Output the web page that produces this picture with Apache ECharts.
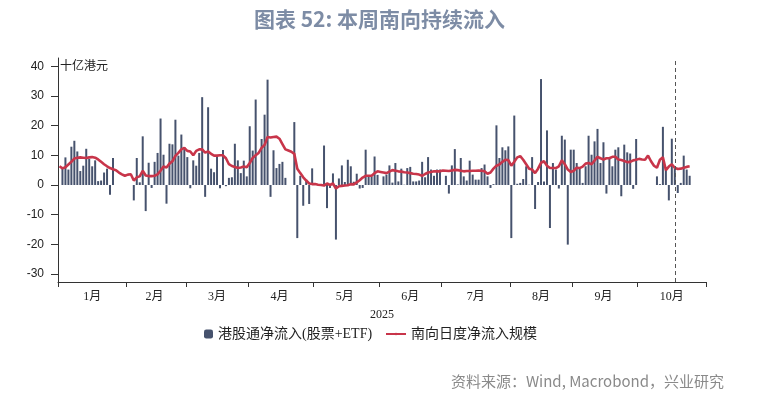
<!DOCTYPE html>
<html>
<head>
<meta charset="utf-8">
<title>图表 52: 本周南向持续流入</title>
<script src="https://cdn.jsdelivr.net/npm/echarts@6/dist/echarts.min.js"></script>
<style>
  html, body { margin: 0; padding: 0; background: #fff; }
  #chart { width: 759px; height: 399px; }
</style>
</head>
<body>
<div id="chart"></div>
<script>
// === DONNEES (十亿港元) ===
// 港股通净流入(股票+ETF) : un point par jour de bourse, dans l'ordre
const netFlow = [
  5.7, 9.3, 5.2, 12.9, 14.9, 11.3, 4.7, 6.5, 12.2, 8.8, 6.3, 8.3, 1.3, 1.5, 4.2, 5.5, -3.3, 9.1,            // janv
  -5.2, 9.1, 0.9, 16.4, -8.8, 7.5, -1.0, 7.8, 10.8, 22.4, 10.2, -6.3, 13.9, 13.7, 22.0, 9.9, 17.0, 12.7,    // fev
  9.4, -1.1, 8.3, 6.5, 10.8, 29.6, -4.0, 26.2, 5.5, 4.3, 9.9, -1.1, 11.8, -0.4, 2.4, 2.6, 13.9, 8.3, 4.0, 8.2, 2.9, // mars
  19.8, 11.6, 28.8, 15.5, 23.7, 35.5, -4.0, 11.7, 5.7, 7.1, 7.8, 2.4, 21.2, -17.9, 3.1, -7.0, 1.8, -6.4, 5.6, // avr
  13.3, -7.8, -1.0, 3.9, -18.4, 2.2, 6.6, 1.0, 8.5, 6.3, 1.1, 3.8, -1.2, -1.0, 11.9, 2.9, 2.9, 9.6, 3.4,     // mai
  2.9, 3.5, 6.6, 0.8, 7.4, 1.2, 5.5, 0.1, 5.7, 6.1, 1.2, 1.2, 1.5, 7.8, 2.6, 9.4, 5.2, 3.1, 5.2, 5.2,        // juin
  3.1, -2.9, 6.6, 12.1, 0.2, 9.1, 2.9, 1.5, 8.2, 3.5, 1.8, 1.8, 5.7, 6.9, 2.9, -1.0, 0.3, 20.1, 9.1, 12.7, 11.7, 13.0, // juil
  -17.9, 23.4, 0.4, 0.7, 2.0, 6.3, 0.1, 9.4, -8.1, 1.0, 35.7, 1.2, 18.4, -14.5, 7.4, 5.2, -1.2, 16.6, 15.3, -20.1, 11.9, // aout
  11.9, 7.4, 5.7, 0.7, 6.3, 16.6, 10.2, 14.7, 18.9, 7.4, 14.4, -2.9, 8.8, 6.3, 11.9, 12.7, -3.8, 13.6, 11.0, 10.6, -1.3, 15.5, // sept
  2.9, 0.3, 19.6, 5.2, -5.2, 15.6, 6.3, -2.7, 0.7, 9.9, 5.2, 3.1                                           // oct
];

// 南向日度净流入规模 : un point par jour ouvre (lun-ven), du 1er janv au 24 oct
const dailyScale = [
  6.3, 5.6, 6.0, 6.9, 7.8, 8.9, 9.2, 9.3, 9.2, 9.1, 9.3, 9.4, 9.2, 8.6, 7.8, 7.0, 6.3, 5.7, 5.3, 5.0, 4.2, 3.6, 3.1,
  3.5, 3.6, 1.5, 2.6, 2.9, 4.8, 3.2, 3.0, 3.0, 3.1, 3.6, 4.8, 6.2, 5.9, 7.2, 8.0, 9.8, 10.8, 12.0, 12.5,
  11.5, 11.3, 10.0, 11.5, 12.0, 12.0, 10.9, 11.3, 10.5, 9.9, 9.9, 10.0, 10.0, 9.0, 7.0, 6.4, 6.1, 5.7, 5.9, 6.2, 6.0,
  7.4, 9.1, 10.0, 10.8, 12.5, 13.5, 16.2, 16.0, 16.2, 16.3, 15.6, 13.8, 12.0, 11.6, 11.2, 10.5, 5.5, 4.0, 2.6, 1.5, 0.5, 0.3,
  0.3, 0.1, 0.0, -0.2, 0.5, 0.0, 0.5, -1.2, -0.4, -0.3, -0.2, -0.1, 0.3, 0.2, 0.9, 1.6, 2.5, 3.1, 3.1, 3.1, 4.0, 4.6,
  4.4, 4.2, 4.0, 4.5, 5.0, 4.8, 4.6, 4.5, 4.3, 4.2, 4.0, 3.8, 3.7, 3.5, 3.1, 3.7, 4.2, 4.4, 4.6, 4.6, 4.6,
  4.9, 4.8, 4.7, 4.9, 5.1, 5.0, 4.8, 4.6, 4.7, 4.7, 4.8, 4.8, 4.9, 4.8, 4.6, 3.8, 4.2, 5.5, 6.5, 6.9, 7.8, 8.5, 8.4,
  6.5, 7.8, 9.3, 9.7, 8.5, 7.0, 5.5, 5.2, 4.0, 5.5, 7.5, 8.0, 6.5, 5.7, 5.7, 5.7, 6.3, 8.3, 7.0, 5.2, 4.4,
  4.8, 5.8, 5.7, 6.2, 7.2, 7.4, 7.0, 8.2, 9.5, 9.0, 8.6, 9.0, 9.0, 9.5, 9.5, 8.6, 8.4, 8.1, 7.7, 7.8, 8.3, 8.5,
  8.8, 8.6, 8.5, 9.9, 8.0, 6.5, 5.8, 8.5, 9.3, 5.0, 6.2, 7.0, 5.8, 5.4, 5.5, 5.8, 6.1, 6.3
];

// Jours ouvres sans seance du 港股通
const closedDays = [
  "2025-01-01", "2025-01-28", "2025-01-29", "2025-01-30", "2025-01-31", "2025-02-03", "2025-02-04",
  "2025-04-04", "2025-04-18", "2025-04-21", "2025-05-01", "2025-05-02", "2025-05-05", "2025-06-02",
  "2025-07-01", "2025-10-01", "2025-10-02", "2025-10-03", "2025-10-06", "2025-10-07", "2025-10-08"
];

const axisStart = "2025-01-01";
const axisEnd = "2025-10-31";
const lastDay = "2025-10-24";
const weekMarker = "2025-10-17";
const monthLabels = ["1月", "2月", "3月", "4月", "5月", "6月", "7月", "8月", "9月", "10月"];
const yTicks = [-30, -20, -10, 0, 10, 20, 30, 40];

const seriesNames = ["港股通净流入(股票+ETF)", "南向日度净流入规模"];

// === CALENDRIER (axe en jours ouvres) ===
function fmt(d) {
    const m = String(d.getMonth() + 1).padStart(2, "0");
    const j = String(d.getDate()).padStart(2, "0");
    return `${d.getFullYear()}-${m}-${j}`;
}

function joursOuvres(debut, fin) {
    const out = [];
    const [y0, m0, d0] = debut.split("-").map(Number);
    const [y1, m1, d1] = fin.split("-").map(Number);
    const d = new Date(y0, m0 - 1, d0);
    const end = new Date(y1, m1 - 1, d1);
    while (d <= end) {
        const wd = d.getDay();
        if (wd !== 0 && wd !== 6) out.push(fmt(d));
        d.setDate(d.getDate() + 1);
    }
    return out;
}

const weekdays = joursOuvres(axisStart, axisEnd);

// barres : seulement les jours de seance
let k = 0;
const barData = weekdays.map(d => {
    if (d > lastDay || closedDays.includes(d)) return null;
    return netFlow[k++];
});
const lineData = weekdays.map((d, i) => (i < dailyScale.length ? dailyScale[i] : null));

// premier jour ouvre de chaque mois (ticks) et jour du milieu (libelles)
const monthFirst = new Set();
const monthMid = new Map();
for (let m = 1; m <= 10; m++) {
    const mm = String(m).padStart(2, "0");
    const idx = weekdays.map((d, i) => (d.slice(5, 7) === mm ? i : -1)).filter(i => i >= 0);
    monthFirst.add(idx[0]);
    monthMid.set(idx[Math.floor((idx.length - 1) / 2)], monthLabels[m - 1]);
}

// === GRAPHIQUE ===
const chart = echarts.init(document.getElementById("chart"));

const labelFont = "'Liberation Serif', 'Noto Sans CJK SC', serif";

const option = {
    animation: false,
    backgroundColor: "#fff",
    title: {
        text: "图表 52: 本周南向持续流入",
        left: "center",
        top: 4,
        textStyle: { color: "#7d8ca5", fontSize: 21, fontWeight: "bold", fontFamily: "'Noto Sans CJK SC', sans-serif" }
    },
    graphic: [
        {
            type: "text", left: 60, top: 59,
            style: { text: "十亿港元", fill: "#222", fontSize: 12, fontFamily: "'Noto Sans CJK SC', sans-serif" }
        },
        {
            type: "text", right: 35, top: 374,
            style: { text: "资料来源：Wind, Macrobond，兴业研究", fill: "#8a8a8a", fontSize: 15, fontFamily: "'Noto Sans CJK SC', sans-serif" }
        }
    ],
    legend: [
        {
            data: [seriesNames[0]],
            left: 199, top: 322,
            itemWidth: 9, itemHeight: 9,
            textStyle: { color: "#222", fontSize: 14, fontFamily: labelFont }
        },
        {
            data: [seriesNames[1]],
            left: 380, top: 322,
            itemWidth: 20, itemHeight: 3,
            textStyle: { color: "#222", fontSize: 14, fontFamily: labelFont }
        }
    ],
    grid: { left: 58, right: 53, top: 58, bottom: 117, containLabel: false },
    xAxis: {
        type: "category",
        data: weekdays,
        boundaryGap: true,
        name: "2025",
        nameLocation: "middle",
        nameGap: 27,
        nameTextStyle: { color: "#222", fontSize: 12, fontFamily: labelFont },
        axisLine: { onZero: false, lineStyle: { color: "#333", width: 1 } },
        axisTick: {
            show: true, length: 5,
            interval: idx => monthFirst.has(idx),
            lineStyle: { color: "#333" }
        },
        axisLabel: {
            interval: idx => monthMid.has(idx),
            formatter: (v, idx) => monthMid.get(idx) || "",
            color: "#222",
            fontSize: 12,
            fontFamily: labelFont,
            margin: 9
        },
        splitLine: { show: false }
    },
    yAxis: {
        type: "value",
        min: -32.7,
        max: 42.8,
        axisLine: { show: true, lineStyle: { color: "#333", width: 1 } },
        axisTick: { show: true, length: 7, customValues: yTicks, lineStyle: { color: "#333" } },
        axisLabel: { customValues: yTicks, color: "#222", fontSize: 12, fontFamily: "'Liberation Sans', sans-serif", margin: 14 },
        splitLine: { show: false }
    },
    series: [
        {
            name: seriesNames[0],
            type: "bar",
            barWidth: 2,
            itemStyle: { color: "#46526d" },
            data: barData,
            markLine: {
                silent: true,
                symbol: "none",
                label: { show: false },
                lineStyle: { color: "#555", type: [4, 3], width: 1 },
                data: [{ xAxis: weekMarker }]
            }
        },
        {
            name: seriesNames[1],
            type: "line",
            showSymbol: false,
            symbol: "none",
            lineStyle: { color: "#c8354a", width: 2.6 },
            itemStyle: { color: "#c8354a" },
            data: lineData,
            z: 3
        }
    ]
};

chart.setOption(option);
console.log("seances:", k, "valeurs:", netFlow.length, "jours ouvres:", weekdays.length);
</script>
</body>
</html>
